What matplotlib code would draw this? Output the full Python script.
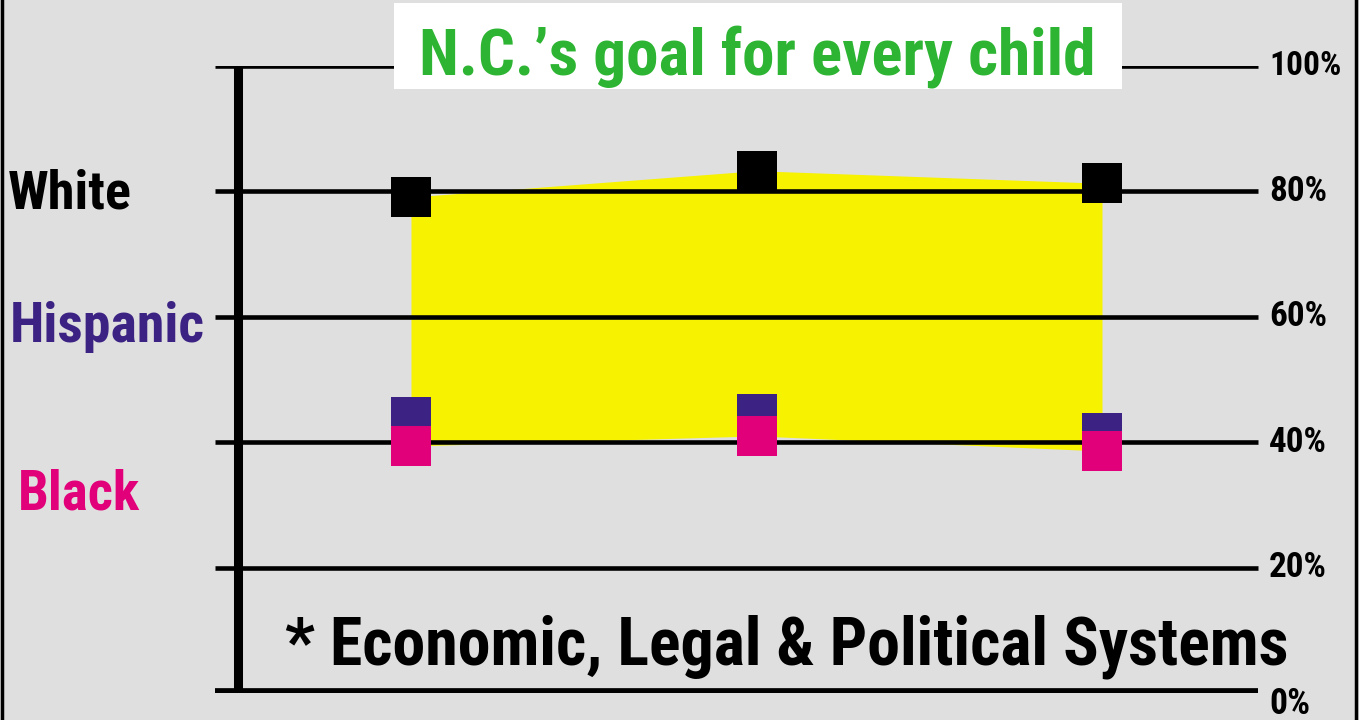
import matplotlib.pyplot as plt
from matplotlib.patches import Rectangle
from matplotlib.lines import Line2D
from matplotlib import font_manager as fm
from matplotlib.font_manager import FontProperties

# data (percent)
groups = [1, 2, 3]
white = [79.1, 83.3, 81.3]
hispanic = [44.0, 44.5, 41.5]
black = [39.4, 41.0, 38.6]
ticks = [0, 20, 40, 60, 80, 100]
tick_labels = ['0%', '20%', '40%', '60%', '80%', '100%']

bg = '#dfdfdf'
yellow = '#f7f200'
green = '#2db432'
purple = '#3c2383'
pink = '#e2007a'


def pick_condensed():
    # look for an installed bold narrow / condensed face
    order = ['liberation sans narrow', 'arial narrow', 'roboto condensed', 'noto sans',
             'open sans', 'dejavu sans']
    found = {}
    for f in fm.fontManager.ttflist:
        nm = f.name.lower()
        fn = f.fname.lower()
        st = str(f.stretch).lower()
        cond = 'narrow' in nm or 'condensed' in nm or 'condensed' in st or 'narrow' in fn or 'condensed' in fn
        if not cond or f.style != 'normal':
            continue
        if 'extra' in fn or 'semi' in fn or 'ultra' in fn:
            continue
        w = f.weight if isinstance(f.weight, int) else {'bold': 700}.get(f.weight, 400)
        if w != 700:
            continue
        for o in order:
            if nm.startswith(o):
                found.setdefault(o, f.fname)
    for o in order:
        if o in found:
            return found[o]
    return None


cond_file = pick_condensed()


def fp(size):
    if cond_file:
        return FontProperties(fname=cond_file, size=size)
    return FontProperties(family=['Liberation Sans', 'DejaVu Sans'], weight='bold', size=size)


W, H = 1359, 720
fig = plt.figure(figsize=(W / 100, H / 100), dpi=100, facecolor=bg)
# y=0 at pixel 693, y=100 at pixel 66
ax = fig.add_axes([0, (H - 693) / H, 1, (693 - 66) / H])
ax.set_facecolor(bg)
ax.set_ylim(0, 100)
step = 345.5
ax.set_xlim(1 - 411 / step, 1 + (W - 411) / step)
ax.axis('off')

ytr = ax.get_yaxis_transform()
renderer = fig.canvas.get_renderer()


def fit(t, width_px, cap_px):
    # size from cap height (px), shrunk if the text is wider than the reference
    size = cap_px * 72 / (0.71 * 100)
    t.set_fontsize(size)
    bb = t.get_window_extent(renderer)
    if bb.width > width_px:
        t.set_fontsize(size * width_px / bb.width)


# yellow gap band
ax.fill_between(groups, white, black, color=yellow, lw=0, zorder=1)

# grid lines and right labels
label_w = {'0%': 41, '100%': 72}
for t, lab in zip(ticks, tick_labels):
    ax.plot([215 / W, 1258 / W], [t, t], color='black',
            lw=7 if t == 0 else 3.3, solid_capstyle='butt', transform=ytr, zorder=2)
    # the 0% label sits a little under its line in the original
    txt = ax.text(1269 / W, t - 1.7 if t == 0 else t, lab, transform=ytr, ha='left',
                  va='center', fontproperties=fp(24), color='black', clip_on=False)
    fit(txt, label_w.get(lab, 58), 26)

# vertical axis
ax.plot([238 / W, 238 / W], [0, 100], color='black', lw=6.5,
        solid_capstyle='butt', transform=ytr, zorder=2)

# markers
ax.plot(groups, hispanic, ls='none', marker='s', ms=28.8, color=purple, mew=0, zorder=3)
ax.plot(groups, black, ls='none', marker='s', ms=28.8, color=pink, mew=0, zorder=4)
ax.plot(groups, white, ls='none', marker='s', ms=28.8, color='black', mew=0, zorder=4)

# group labels
t1 = ax.text(8 / W, 77.2, 'White', transform=ytr, color='black', fontproperties=fp(40),
             va='baseline', ha='left')
t2 = ax.text(10 / W, 56.0, 'Hispanic', transform=ytr, color=purple, fontproperties=fp(40),
             va='baseline', ha='left')
t3 = ax.text(18 / W, 29.3, 'Black', transform=ytr, color=pink, fontproperties=fp(40),
             va='baseline', ha='left')
fit(t1, 124, 41)
fit(t2, 195, 41)
fit(t3, 122, 41)

# title box
ax.add_patch(Rectangle((394 / W, (H - 89) / H), 728 / W, 86 / H, transform=fig.transFigure,
                       facecolor='white', edgecolor='none', zorder=5, clip_on=False))
tt = ax.text(757 / W, 98.6, 'N.C.\u2019s goal for every child', transform=ytr, color=green,
             fontproperties=fp(47.5), ha='center', va='baseline', zorder=6, clip_on=False)
fit(tt, 677, 48)

tb = ax.text(787 / W, 4.5, '* Economic, Legal & Political Systems', transform=ytr, color='black',
             fontproperties=fp(49), ha='center', va='baseline', zorder=6)
fit(tb, 1005, 50)

# frame edges
fig.add_artist(Line2D([1.5 / W, 1.5 / W], [0, 1], color='black', lw=2.5, transform=fig.transFigure))
fig.add_artist(Line2D([1355.5 / W, 1355.5 / W], [0, 1], color='black', lw=2.5, transform=fig.transFigure))

fig.savefig('out.png', dpi=100, facecolor=bg)
